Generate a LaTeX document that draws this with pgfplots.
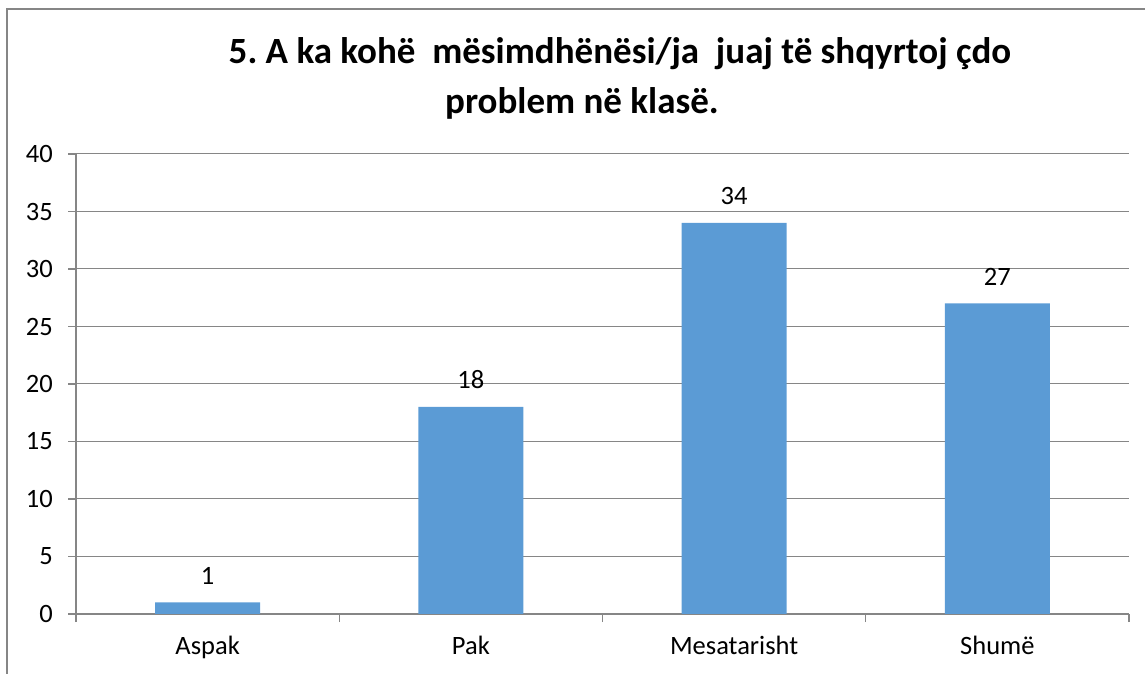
\documentclass[border=0pt]{standalone}
\usepackage{fontspec}
\setmainfont{Carlito}
\usepackage{pgfplots}
\pgfplotsset{compat=1.18}
\definecolor{barblue}{HTML}{5B9BD5}
\definecolor{gridgray}{HTML}{868686}
\begin{document}
\frenchspacing
\begin{tikzpicture}[x=1pt,y=1pt]
\useasboundingbox (0,0) rectangle (1145,674);
\draw[gridgray, line width=1.3pt] (7,-5) -- (7,665) -- (1150,665);
\node[anchor=base, font=\fontsize{37}{44}\selectfont\bfseries, inner sep=0] at (620,610) {5. A ka kohë\ \ mësimdhënësi/ja\ \ juaj të shqyrtoj çdo};
\node[anchor=base, font=\fontsize{37}{44}\selectfont\bfseries, inner sep=0] at (582,560) {problem në klasë.};
\begin{axis}[
  at={(76pt,60pt)}, anchor=south west,
  scale only axis, width=1053pt, height=460pt,
  xmin=-0.5, xmax=3.5, ymin=0, ymax=40,
  ytick={0,5,...,40},
  xtick={-0.5,0.5,1.5,2.5,3.5},
  xticklabels={},
  extra x ticks={0,1,2,3},
  extra x tick labels={Aspak,Pak,Mesatarisht,Shumë},
  extra x tick style={major tick length=0pt, tick style={draw=none}},
  tick align=outside,
  major tick length=8pt,
  tick style={gridgray, line width=1.1pt},
  axis line style={gridgray, line width=1.1pt},
  axis x line*=bottom, axis y line*=left,
  ymajorgrids,
  major grid style={gridgray, line width=1pt},
  /pgf/number format/assume math mode=true,
  ticklabel style={font=\fontsize{26.5}{31}\selectfont},
  yticklabel style={anchor=east, inner sep=0, xshift=-15pt},
  xticklabel style={anchor=base, inner sep=0, yshift=-41pt},
  ybar, bar width=105pt,
  nodes near coords,
  every node near coord/.append style={font=\fontsize{26.5}{31}\selectfont, anchor=base, inner sep=0, yshift=18pt, black},
]
\addplot[fill=barblue, draw=none] coordinates {(0,1) (1,18) (2,34) (3,27)};
\end{axis}
\end{tikzpicture}
\end{document}
